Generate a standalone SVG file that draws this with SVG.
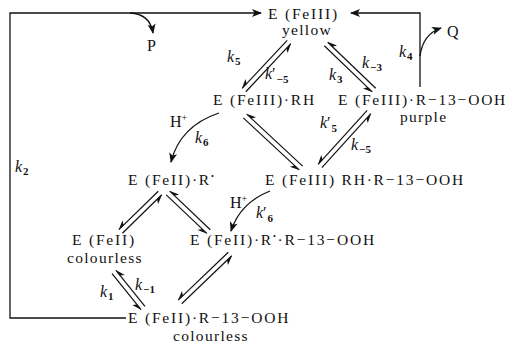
<svg xmlns="http://www.w3.org/2000/svg" width="511" height="348" viewBox="0 0 511 348">
<style>
  .t { font-family: "Liberation Serif", "Times New Roman", serif; font-size: 15.5px; fill: #111; letter-spacing: 1.8px; }
  .w { font-family: "Liberation Serif", "Times New Roman", serif; font-size: 15.5px; fill: #111; letter-spacing: 1.3px; }
  .k { font-family: "Liberation Serif", "Times New Roman", serif; font-size: 16px; fill: #111; }
  .i { font-style: italic; }
  .sub { font-size: 11px; font-weight: bold; }
  .h { fill: none; stroke: #111; stroke-width: 1.2; marker-end: url(#harp); }
  .c { fill: none; stroke: #111; stroke-width: 1.3; marker-end: url(#arr); }
</style>
<defs>
  <marker id="harp" markerUnits="userSpaceOnUse" markerWidth="14" markerHeight="14" viewBox="-12 -7 14 14" refX="0" refY="0" orient="auto" overflow="visible">
    <path d="M0.5,0 L-9,4 L-6.5,0 Z" fill="#111"/>
  </marker>
  <marker id="arr" markerUnits="userSpaceOnUse" markerWidth="14" markerHeight="14" viewBox="-12 -7 14 14" refX="0" refY="0" orient="auto" overflow="visible">
    <path d="M1,0 L-9,-4 L-6.5,0 L-9,4 Z" fill="#111"/>
  </marker>
</defs>

<g id="connectors">
  <path class="c" d="M126,318 H10 V13 H261"/>
  <path class="c" d="M420,87 V13 H351"/>
  <path class="c" d="M130,13 Q150,14 153,33"/>
  <path class="c" d="M420,56 Q423,34 441,28"/>
  <path class="c" d="M219,113 Q180,126 171,162"/>
  <path class="c" d="M270,191 Q240,203 231,231"/>

  <g transform="translate(289,42) rotate(133.15)">
    <path class="h" d="M0,2.5 H65.8"/><path class="h" d="M65.8,-2.5 H0"/>
  </g>
  <g transform="translate(326,44) rotate(43.8)">
    <path class="h" d="M0,2.5 H66.5"/><path class="h" d="M66.5,-2.5 H0"/>
  </g>
  <g transform="translate(245,116) rotate(42.9)">
    <path class="h" d="M0,2.5 H76.4"/><path class="h" d="M76.4,-2.5 H0"/>
  </g>
  <g transform="translate(369,112) rotate(132.2)">
    <path class="h" d="M0,2.5 H72.9"/><path class="h" d="M72.9,-2.5 H0"/>
  </g>
  <g transform="translate(160,193) rotate(135.7)">
    <path class="h" d="M0,2.5 H55"/><path class="h" d="M55,-2.5 H0"/>
  </g>
  <g transform="translate(168,193) rotate(43.6)">
    <path class="h" d="M0,2.5 H56"/><path class="h" d="M56,-2.5 H0"/>
  </g>
  <g transform="translate(230,254) rotate(136.2)">
    <path class="h" d="M0,2.5 H69.3"/><path class="h" d="M69.3,-2.5 H0"/>
  </g>
  <g transform="translate(114,272) rotate(51.1)">
    <path class="h" d="M0,2.5 H46.2"/><path class="h" d="M46.2,-2.5 H0"/>
  </g>

  <g id="labels">
    <text class="k" x="147" y="51">P</text>
    <text class="k" x="447" y="37">Q</text>
    <text class="k" x="227" y="62"><tspan class="i">k</tspan><tspan class="sub" dx="1" dy="3">5</tspan></text>
    <text class="k" x="265" y="79"><tspan class="i">k</tspan><tspan>′</tspan><tspan class="sub" dx="1" dy="4">−5</tspan></text>
    <text class="k" x="329" y="80"><tspan class="i">k</tspan><tspan class="sub" dx="1" dy="3">3</tspan></text>
    <text class="k" x="362" y="68"><tspan class="i">k</tspan><tspan class="sub" dx="1" dy="3">−3</tspan></text>
    <text class="k" x="399" y="57"><tspan class="i">k</tspan><tspan class="sub" dx="1" dy="3">4</tspan></text>
    <text class="k" x="170" y="127">H<tspan font-size="10" dy="-6">+</tspan></text>
    <text class="k" x="195" y="143"><tspan class="i">k</tspan><tspan class="sub" dx="1" dy="3">6</tspan></text>
    <text class="k" x="320" y="128"><tspan class="i">k</tspan><tspan>′</tspan><tspan class="sub" dx="1" dy="4">5</tspan></text>
    <text class="k" x="351" y="150"><tspan class="i">k</tspan><tspan class="sub" dx="1" dy="3">−5</tspan></text>
    <text class="k" x="15" y="172"><tspan class="i">k</tspan><tspan class="sub" dx="1" dy="3">2</tspan></text>
    <text class="k" x="230" y="208">H<tspan font-size="10" dy="-6">+</tspan></text>
    <text class="k" x="256" y="218"><tspan class="i">k</tspan><tspan>′</tspan><tspan class="sub" dx="1" dy="4">6</tspan></text>
    <text class="k" x="100" y="297"><tspan class="i">k</tspan><tspan class="sub" dx="1" dy="3">1</tspan></text>
    <text class="k" x="135" y="290"><tspan class="i">k</tspan><tspan class="sub" dx="1" dy="3">−1</tspan></text>
  </g>
</g>

<g id="n-feIII">
  <text class="t" x="268" y="19">E (FeIII)</text>
  <text class="w" x="282" y="35">yellow</text>
</g>
<g id="n-feIII-rh">
  <text class="t" x="213" y="105">E (FeIII)·RH</text>
</g>
<g id="n-feIII-rooh">
  <text class="t" x="338" y="105">E (FeIII)·R−13−OOH</text>
  <text class="w" x="400" y="122">purple</text>
</g>
<g id="n-feII-r">
  <text class="t" x="128" y="185">E (FeII)·R<tspan font-size="8" dy="-6">•</tspan></text>
</g>
<g id="n-feIII-rh-rooh">
  <text class="t" x="265" y="185">E (FeIII) RH·R−13−OOH</text>
</g>
<g id="n-feII">
  <text class="t" x="72" y="245">E (FeII)</text>
  <text class="w" x="67" y="263">colourless</text>
</g>
<g id="n-feII-r-rooh">
  <text class="t" x="190" y="245">E (FeII)·R<tspan font-size="8" dy="-6">•</tspan><tspan dy="6">·R−13−OOH</tspan></text>
</g>
<g id="n-feII-rooh">
  <text class="t" x="128" y="323">E (FeII)·R−13−OOH</text>
  <text class="w" x="173" y="341">colourless</text>
</g>
</svg>
